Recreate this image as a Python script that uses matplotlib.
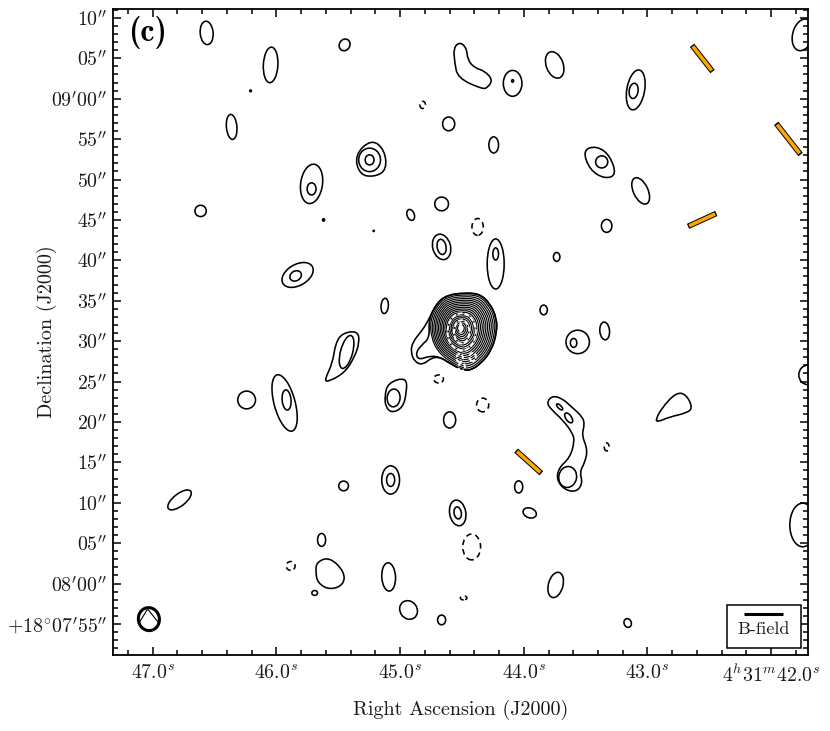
import matplotlib
matplotlib.use("Agg")
import matplotlib.pyplot as plt
from matplotlib.patches import Ellipse, PathPatch, Rectangle
from matplotlib.path import Path
from matplotlib.transforms import Affine2D

plt.rcParams['mathtext.fontset'] = 'cm'
plt.rcParams['font.family'] = ['cmr10', 'DejaVu Sans']
plt.rcParams['axes.unicode_minus'] = False

# ra in seconds after 4h31m, dec in arcsec after +18d07m00s, sizes in arcsec
oval_ra = [46.563, 46.046, 45.448, 46.361, 44.090, 43.750, 43.095, 43.112, 44.607, 44.243,
           45.715, 45.715, 43.055, 46.612, 44.914, 44.664, 43.330, 44.664, 44.664, 44.227,
           44.227, 43.734, 45.828, 45.844, 45.124, 43.839, 43.346, 43.564, 43.597, 45.432,
           46.240, 45.933, 45.917, 44.599, 46.782, 45.456, 45.076, 45.076, 44.041, 43.952,
           44.534, 44.534, 45.634, 45.092, 43.742, 45.690, 44.931, 44.664, 43.160, 45.246,
           45.246, 43.370, 45.052, 43.645, 43.637, 43.710, 41.745, 41.705, 41.745, 46.208,
           45.618, 45.213, 44.090]
oval_dec = [128.14, 124.18, 126.66, 116.51, 121.90, 124.18, 121.09, 120.97, 116.88, 114.28,
            109.46, 108.84, 108.59, 106.11, 105.62, 106.98, 104.26, 101.66, 101.66, 99.55,
            100.79, 100.42, 98.19, 98.07, 94.36, 93.86, 91.26, 89.90, 89.78, 88.66,
            82.72, 82.35, 82.72, 80.25, 70.35, 72.08, 72.82, 72.82, 71.96, 68.74,
            68.74, 68.74, 65.40, 60.82, 59.83, 58.84, 56.73, 55.50, 55.12, 112.43,
            112.43, 112.18, 82.97, 73.19, 80.50, 81.86, 127.90, 85.82, 67.25, 120.97,
            105.00, 103.64, 122.20]
oval_w = [1.6, 1.8, 1.3, 1.3, 2.3, 2.1, 2.2, 1.1, 1.5, 1.2,
          2.7, 1.1, 1.8, 1.4, 0.9, 1.7, 1.3, 2.2, 1.1, 2.1,
          0.7, 0.8, 4.2, 1.5, 0.9, 0.9, 1.2, 2.9, 0.8, 1.5,
          2.2, 2.6, 1.1, 1.5, 3.5, 1.2, 2.2, 1.0, 1.0, 1.7,
          2.0, 0.9, 1.0, 1.7, 1.8, 0.7, 2.1, 1.0, 0.9, 2.7,
          1.1, 1.5, 1.6, 2.2, 0.7, 0.4, 2.5, 2.2, 3.2, 0.2,
          0.25, 0.15, 0.25]
oval_h = [2.9, 4.4, 1.5, 3.1, 3.2, 3.4, 5.0, 1.9, 1.7, 2.0,
          4.9, 1.5, 3.5, 1.4, 1.4, 1.7, 1.6, 3.2, 1.9, 6.2,
          1.5, 1.1, 2.6, 1.2, 1.9, 1.2, 2.2, 2.9, 1.1, 4.2,
          2.2, 7.2, 2.5, 2.0, 1.5, 1.2, 3.5, 1.6, 1.5, 1.2,
          3.2, 1.5, 1.6, 3.5, 3.2, 0.6, 2.4, 1.2, 1.1, 2.9,
          1.25, 1.5, 2.2, 2.6, 1.4, 1.0, 4.0, 2.4, 5.4, 0.2,
          0.3, 0.15, 0.3]
oval_tilt = [-5, 3, 30, -5, 0, -20, 10, 8, 0, 0,
             8, 0, -25, 0, -20, -15, 0, -15, -10, 0,
             0, 0, -30, -30, 5, 0, -5, 0, 0, 15,
             0, -15, -5, 0, -38, 0, 0, 0, 0, 20,
             -10, -10, 0, -3, 15, 0, -35, 0, -20, 0,
             0, 0, 5, 10, -35, -45, 15, 0, 0, 0,
             0, 0, 0]

neg_ra = [44.817, 44.373, 44.688, 44.332, 43.330, 44.421, 45.884, 44.486]
neg_dec = [119.23, 104.13, 85.32, 82.10, 76.91, 64.53, 62.18, 58.22]
neg_w = [0.7, 1.4, 1.2, 1.5, 0.6, 2.2, 1.1, 0.8]
neg_h = [0.9, 2.1, 1.0, 1.7, 1.0, 3.2, 1.1, 0.5]

boot_ra = [44.567, 44.518, 44.462, 44.454, 44.397, 44.316, 44.251, 44.292, 44.340, 44.534, 44.559]
boot_dec = [126.29, 127.03, 126.29, 124.80, 123.81, 123.44, 122.33, 121.34, 121.21, 122.57, 124.55]
arc_ra = [43.815, 43.774, 43.694, 43.613, 43.524, 43.508, 43.532, 43.483, 43.508, 43.548,
          43.524, 43.572, 43.669, 43.734, 43.718, 43.629, 43.589, 43.605, 43.686, 43.774]
arc_dec = [82.35, 83.22, 82.97, 81.86, 80.62, 79.63, 78.39, 76.53, 74.93, 73.81,
           72.45, 71.34, 71.58, 72.82, 74.31, 75.54, 77.52, 78.64, 80.25, 81.49]
tri_ra = [42.934, 42.885, 42.764, 42.683, 42.635, 42.683, 42.821, 42.917]
tri_dec = [80.25, 81.73, 83.71, 83.34, 81.73, 81.11, 80.62, 80.00]
streak_ra = [45.610, 45.545, 45.521, 45.464, 45.343, 45.327, 45.367, 45.448, 45.585]
streak_dec = [85.20, 87.30, 89.78, 91.01, 91.26, 89.90, 88.04, 86.06, 84.95]
cup_ra = [45.124, 45.100, 44.947, 44.947, 44.979, 45.068, 45.116]
cup_dec = [83.09, 84.83, 85.57, 83.59, 81.73, 81.11, 81.86]
knot_ra = [45.367, 45.230, 45.124, 45.108, 45.205, 45.327]
knot_dec = [113.04, 115.02, 113.66, 111.19, 110.32, 110.57]
wing_ra = [43.524, 43.411, 43.306, 43.249, 43.346, 43.467]
wing_dec = [113.66, 114.16, 113.04, 110.57, 110.07, 111.19]
lump_ra = [45.674, 45.569, 45.448, 45.456, 45.569, 45.666, 45.682]
lump_dec = [62.67, 63.29, 61.44, 59.83, 59.21, 60.07, 61.44]

core_ra = [44.704, 44.615, 44.478, 44.357, 44.276, 44.219, 44.219, 44.260, 44.340, 44.437,
           44.518, 44.615, 44.704, 44.761, 44.769]
core_dec = [94.73, 95.72, 95.97, 95.84, 94.73, 92.87, 91.01, 88.91, 87.30, 86.31,
            86.56, 87.43, 88.54, 90.40, 92.62]
tail_ra = [44.664, 44.736, 44.817, 44.882, 44.914, 44.898, 44.825, 44.777]
tail_dec = [87.92, 88.04, 87.05, 87.43, 88.66, 89.90, 91.26, 92.38]
tail2_ra = [44.680, 44.761, 44.850, 44.874, 44.825]
tail2_dec = [88.04, 88.17, 87.67, 88.54, 89.53]
core_center = (44.51, 91.6)
core_levels = [0.95, 0.90, 0.85, 0.80, 0.75, 0.70, 0.65, 0.60, 0.55, 0.50,
               0.45, 0.40, 0.35, 0.30, 0.25, 0.20, 0.15, 0.10]

white_ra = [44.502, 44.502, 44.510, 44.518, 44.413, 44.502]
white_dec = [91.14, 91.14, 91.60, 87.92, 88.04, 86.81]
white_w = [3.5, 1.9, 0.1, 0.8, 0.8, 0.8]
white_h = [4.6, 2.9, 1.2, 1.0, 1.0, 1.0]

bar_ra0 = [42.640, 41.960, 42.672, 44.062]
bar_dec0 = [126.60, 116.95, 104.20, 76.45]
bar_ra1 = [42.474, 41.762, 42.444, 43.858]
bar_dec1 = [123.36, 113.09, 105.80, 73.65]

beam = (47.03, 55.6, 2.6, 2.85, -10)
beam_line_ra = [47.105, 47.04, 46.95]
beam_line_dec = [55.25, 56.86, 55.12]

x_ticks = [47, 46, 45, 44, 43, 42]
x_labels = [r'$47.0^{s}$', r'$46.0^{s}$', r'$45.0^{s}$', r'$44.0^{s}$', r'$43.0^{s}$', r'$4^{h}31^{m}42.0^{s}$']
y_ticks = [55, 60, 65, 70, 75, 80, 85, 90, 95, 100, 105, 110, 115, 120, 125, 130]
y_labels = [r"$+18^{\circ}07^{\prime}55^{\prime\prime}$", r"$08^{\prime}00^{\prime\prime}$",
            r"$05^{\prime\prime}$", r"$10^{\prime\prime}$", r"$15^{\prime\prime}$",
            r"$20^{\prime\prime}$", r"$25^{\prime\prime}$", r"$30^{\prime\prime}$",
            r"$35^{\prime\prime}$", r"$40^{\prime\prime}$", r"$45^{\prime\prime}$",
            r"$50^{\prime\prime}$", r"$55^{\prime\prime}$", r"$09^{\prime}00^{\prime\prime}$",
            r"$05^{\prime\prime}$", r"$10^{\prime\prime}$"]

LW = 1.15
K = 15.31  # arcsec on the plot per second of ra
TEXT = '#1a1a1a'


def smooth(ra, dec):
    # closed outline rounded with quadratic segments
    n = len(ra)
    mid = [((ra[i] + ra[(i + 1) % n]) / 2, (dec[i] + dec[(i + 1) % n]) / 2) for i in range(n)]
    verts = [mid[-1]]
    codes = [Path.MOVETO]
    for i in range(n):
        verts += [(ra[i], dec[i]), mid[i]]
        codes += [Path.CURVE3, Path.CURVE3]
    return Path(verts, codes)


def outline(ax, ra, dec, **kw):
    ax.add_patch(PathPatch(smooth(ra, dec), fc='none', ec=kw.pop('ec', 'k'), lw=kw.pop('lw', LW), **kw))


def oval(ax, ra, dec, w, h, tilt=0, **kw):
    tr = Affine2D().scale(1 / K, 1) + ax.transData
    ax.add_patch(Ellipse((ra * K, dec), w, h, angle=tilt, transform=tr, fc='none', **kw))


fig = plt.figure(figsize=(8.3, 7.31), dpi=100)
ax = fig.add_axes([113 / 830, 1 - 655 / 731, 694.7 / 830, 646 / 731])
ax.set_xlim(47.32, 41.705)
ax.set_ylim(51.16, 131.1)

for i in range(len(oval_ra)):
    oval(ax, oval_ra[i], oval_dec[i], oval_w[i], oval_h[i], oval_tilt[i], ec='k', lw=LW)
for i in range(len(neg_ra)):
    oval(ax, neg_ra[i], neg_dec[i], neg_w[i], neg_h[i], ec='k', lw=LW, ls=(0, (3.5, 2.5)))

outline(ax, boot_ra, boot_dec)
outline(ax, arc_ra, arc_dec)
outline(ax, tri_ra, tri_dec)
outline(ax, streak_ra, streak_dec)
outline(ax, cup_ra, cup_dec)
outline(ax, knot_ra, knot_dec)
outline(ax, wing_ra, wing_dec)
outline(ax, lump_ra, lump_dec)

# central source, outer contours carry the tail
outline(ax, core_ra[:12] + tail_ra, core_dec[:12] + tail_dec)
outline(ax, core_ra[:12] + tail2_ra + core_ra[13:], core_dec[:12] + tail2_dec + core_dec[13:])
for s in core_levels:
    ra = [core_center[0] + s * (r - core_center[0]) for r in core_ra]
    dec = [core_center[1] + s * (d - core_center[1]) for d in core_dec]
    outline(ax, ra, dec, lw=0.85)
for i in range(len(white_ra)):
    oval(ax, white_ra[i], white_dec[i], white_w[i], white_h[i], ec='w', lw=1.4, ls=(0, (2.5, 1)))

for i in range(len(bar_ra0)):
    ra0, ra1, d0, d1 = bar_ra0[i], bar_ra1[i], bar_dec0[i], bar_dec1[i]
    ax.plot([ra0, ra1], [d0, d1], color='k', lw=4.0, solid_capstyle='butt')
    ax.plot([ra0 + 0.04 * (ra1 - ra0), ra1 - 0.04 * (ra1 - ra0)],
            [d0 + 0.04 * (d1 - d0), d1 - 0.04 * (d1 - d0)], color='orange', lw=2.6, solid_capstyle='butt')

oval(ax, beam[0], beam[1], beam[2], beam[3], beam[4], ec='k', lw=2.2)
ax.plot(beam_line_ra, beam_line_dec, color='k', lw=0.8)

ax.text(0.022, 0.963, '(c)', transform=ax.transAxes, family=['cmb10', 'DejaVu Sans'], fontsize=23, va='center', ha='left')

ax.add_patch(Rectangle((0.8834, 0.0108), 0.1065, 0.0666, transform=ax.transAxes, fc='w', ec='k', lw=1.1, zorder=5))
ax.plot([0.9084, 0.9646], [0.0635, 0.0635], transform=ax.transAxes, color='k', lw=2.2, zorder=6, solid_capstyle='butt')
ax.text(0.937, 0.040, 'B-field', transform=ax.transAxes, fontsize=13, ha='center', va='center', color=TEXT, zorder=6)

ax.set_xticks(x_ticks)
ax.set_xticklabels(x_labels)
ax.set_yticks(y_ticks)
ax.set_yticklabels(y_labels)
ax.set_xticks([47.2 - 0.2 * i for i in range(28)], minor=True)
ax.set_yticks(list(range(52, 132)), minor=True)
ax.tick_params(which='major', direction='in', length=6, width=1.1, top=True, right=True,
               labelsize=14.3, labelcolor=TEXT, pad=4)
ax.tick_params(axis='x', which='major', pad=6.5)
ax.tick_params(which='minor', direction='in', length=3.4, width=1.1, top=True, right=True)
ax.set_xlabel('Right Ascension (J2000)', fontsize=14.5, labelpad=10, color=TEXT)
ax.set_ylabel('Declination (J2000)', fontsize=14.5, color=TEXT)
ax.yaxis.set_label_coords(-0.081, 0.5)
for s in ax.spines.values():
    s.set_linewidth(1.3)

fig.savefig('out.png', dpi=100)
